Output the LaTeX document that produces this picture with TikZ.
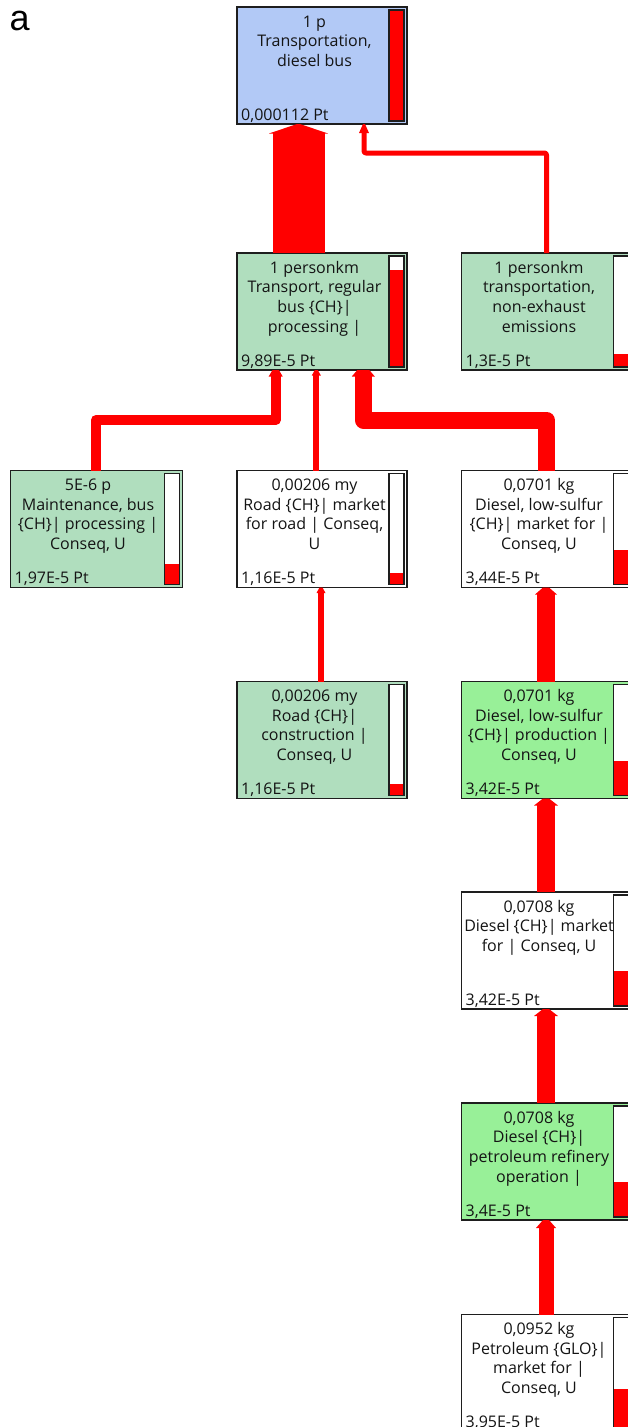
\documentclass[tikz,border=0pt]{standalone}
\usepackage{fontspec}
\setmainfont{Open Sans}
\newfontfamily\labelfont{Liberation Sans}
\usetikzlibrary{calc}
\definecolor{pblue}{RGB}{178,201,246}
\definecolor{pmint}{RGB}{176,222,190}
\definecolor{pgreen}{RGB}{152,240,152}
\definecolor{pred}{RGB}{255,0,0}
\definecolor{pedge}{RGB}{30,30,30}
\definecolor{ptext}{RGB}{20,20,20}
\tikzset{
  procbox/.style={draw=pedge, line width=1.5pt, minimum width=170pt, minimum height=117pt,
    inner sep=0pt, outer sep=0pt, anchor=north west},
  proctext/.style={anchor=north, align=center, inner sep=0pt, text=ptext,
    font=\fontsize{16}{19.6}\selectfont},
  procval/.style={anchor=base west, inner sep=0pt, text=ptext,
    font=\fontsize{16}{19.6}\selectfont},
  barframe/.style={draw=pedge, line width=1.2pt, fill=white},
  conn/.style={draw=pred, line join=round},
}
\newcommand\mkproc[7]{%
  \node[procbox, #4] (#1) at (#2,#3) {};
  \node[proctext] (#1-t) at ($(#1.north west)+(77.5,6)$) {\rule{0pt}{14pt}#5};
  \node[procval] (#1-v) at ($(#1.south west)+(4,-4)$) {#6};
  \draw[barframe] ($(#1.north east)+(-18,3)$) rectangle ($(#1.south east)+(-3,-3)$);
  \fill[pred] ($(#1.south east)+(-17.4,-3.6)$) rectangle ($(#1.south east)+(-3.6,{-3.6-#7*109.8})$);
}
\newcommand\uphead[4]{%
  \fill[pred] ($(#1)+(-#2,0)$) -- ($(#1)+(#2,0)$) -- ($(#1)+(#3,#4)$) -- ($(#1)+(-#3,#4)$) -- cycle;
}
\begin{document}
\begin{tikzpicture}[x=1pt,y=-1pt]
\useasboundingbox (0,0) rectangle (628,1427);
\clip (0,0) rectangle (628,1427);
\fill[white] (0,0) rectangle (628,1427);

\node[font=\labelfont\fontsize{36}{36}\selectfont, anchor=base west, inner sep=0pt] (lbl) at (9.5,30.7) {a};

\mkproc{b1}{237}{7}{fill=pblue}{1 p\\Transportation,\\diesel bus}{0,000112 Pt}{1.0}
\mkproc{b2}{237}{253}{fill=pmint}{1 personkm\\Transport, regular\\bus \{CH\}|\\processing |}{9,89E-5 Pt}{0.875}
\mkproc{b3}{461.5}{253}{fill=pmint}{1 personkm\\transportation,\\non-exhaust\\emissions}{1,3E-5 Pt}{0.116}
\mkproc{b4}{10.5}{470.5}{fill=pmint, minimum width=172pt}{5E-6 p\\Maintenance, bus\\\{CH\}| processing |\\Conseq, U}{1,97E-5 Pt}{0.18}
\mkproc{b5}{237}{470.5}{fill=white}{0,00206 my\\Road \{CH\}| market\\for road | Conseq,\\U}{1,16E-5 Pt}{0.10}
\mkproc{b6}{461.5}{470.5}{fill=white}{0,0701 kg\\Diesel, low-sulfur\\\{CH\}| market for |\\Conseq, U}{3,44E-5 Pt}{0.31}
\mkproc{b7}{237}{681.5}{fill=pmint}{0,00206 my\\Road \{CH\}|\\construction |\\Conseq, U}{1,16E-5 Pt}{0.10}
\mkproc{b8}{461.5}{681.5}{fill=pgreen}{0,0701 kg\\Diesel, low-sulfur\\\{CH\}| production |\\Conseq, U}{3,42E-5 Pt}{0.31}
\mkproc{b9}{461.5}{892}{fill=white}{0,0708 kg\\Diesel \{CH\}| market\\for | Conseq, U}{3,42E-5 Pt}{0.31}
\mkproc{b10}{461.5}{1103}{fill=pgreen}{0,0708 kg\\Diesel \{CH\}|\\petroleum refinery\\operation |}{3,4E-5 Pt}{0.31}
\mkproc{b11}{461.5}{1314.5}{fill=white}{0,0952 kg\\Petroleum \{GLO\}|\\market for |\\Conseq, U}{3,95E-5 Pt}{0.35}

% connectors
\coordinate (h21) at ($(b1.south west)+(61.5,0)$);
\draw[conn, line width=52pt] ($(b2.north west)+(61.5,0)$) -- ($(h21)+(0,9)$);
\uphead{h21}{1.5}{29.5}{9.5}

\coordinate (h31) at ($(b1.south west)+(127,0)$);
\draw[conn, line width=5pt, rounded corners=2pt] (b3.north) |- ($(h31)+(0,29)$) -- ($(h31)+(0,8.5)$);
\uphead{h31}{1}{5}{9}

\coordinate (h42) at ($(b2.south west)+(38.7,0)$);
\draw[conn, line width=10pt] ($(b4.north west)+(85.5,0)$) |- ($(h42)+(0,50)$) -- ($(h42)+(0,6)$);
\uphead{h42}{3.2}{7}{6.5}

\coordinate (h52) at ($(b2.south west)+(79.3,0)$);
\draw[conn, line width=6pt] ($(b5.north west)+(79.3,0)$) -- ($(h52)+(0,5)$);
\uphead{h52}{1.5}{4.5}{5.5}

\coordinate (h62) at ($(b2.south west)+(126.3,0)$);
\draw[conn, line width=17pt] (b6.north) |- ($(h62)+(0,50)$) -- ($(h62)+(0,6)$);
\uphead{h62}{6}{11.5}{6.5}

\coordinate (h75) at ($(b5.south west)+(84,0)$);
\draw[conn, line width=6pt] ($(b7.north west)+(84,0)$) -- ($(h75)+(0,5)$);
\uphead{h75}{1.5}{4.5}{5.5}

\coordinate (h86) at ($(b6.south west)+(84.5,0)$);
\draw[conn, line width=18pt] ($(b8.north west)+(84.5,0)$) -- ($(h86)+(0,6.5)$);
\uphead{h86}{3}{11}{7}

\coordinate (h98) at ($(b8.south west)+(84.5,0)$);
\draw[conn, line width=18pt] ($(b9.north west)+(84.5,0)$) -- ($(h98)+(0,6.5)$);
\uphead{h98}{3}{12}{7}

\coordinate (h109) at ($(b9.south west)+(84.5,0)$);
\draw[conn, line width=18pt] ($(b10.north west)+(84.5,0)$) -- ($(h109)+(0,6.5)$);
\uphead{h109}{3}{12}{7}

\coordinate (h1110) at ($(b10.south west)+(84.5,0)$);
\draw[conn, line width=15pt] ($(b11.north west)+(84.5,0)$) -- ($(h1110)+(0,7.5)$);
\uphead{h1110}{3}{10}{8}
\end{tikzpicture}
\end{document}
